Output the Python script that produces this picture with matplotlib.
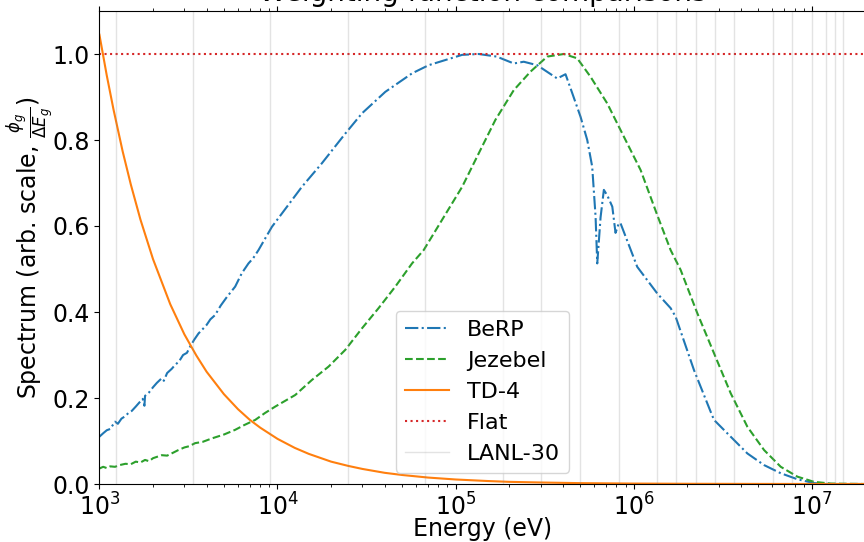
import numpy as np
import matplotlib
matplotlib.use('Agg')
import matplotlib.pyplot as plt

plt.rcParams['font.size'] = 16

# BeRP ball spectrum
berp_e = [1.0e3, 1.05e3, 1.1e3, 1.15e3, 1.224e3, 1.27e3, 1.33e3, 1.4e3, 1.453e3, 1.52e3,
          1.6e3, 1.68e3, 1.75e3, 1.79e3, 1.804e3, 1.9e3, 2.0e3, 2.1e3, 2.239e3, 2.3e3,
          2.4e3, 2.55e3, 2.66e3, 2.8e3, 2.95e3, 3.1e3, 3.228e3, 3.4e3, 3.6e3, 3.758e3,
          4.0e3, 4.2e3, 4.465e3, 4.8e3, 5.2e3, 5.785e3, 6.3e3, 6.871e3, 7.3e3, 7.823e3,
          8.5e3, 9.301e3, 1.37e4, 1.776e4, 2.403e4, 2.981e4, 4.031e4, 5.695e4, 7.062e4,
          1.088e5, 1.349e5, 1.7e5, 2.122e5, 2.414e5, 2.871e5, 3.721e5, 4.142e5, 4.518e5,
          5.03e5, 5.485e5, 5.848e5, 6.109e5, 6.243e5, 6.516e5, 6.8e5, 7.128e5, 7.583e5,
          7.907e5, 8.26e5, 8.44e5, 1.047e6, 1.357e6, 1.612e6, 1.72e6, 2.18e6, 2.705e6,
          2.825e6, 3.505e6, 4.35e6, 5.395e6, 6.695e6, 8.31e6, 1.03e7, 1.3e7, 2.0e7]
berp_v = [0.110, 0.118, 0.125, 0.128, 0.145, 0.140, 0.152, 0.158, 0.165, 0.170,
          0.180, 0.190, 0.198, 0.182, 0.205, 0.213, 0.225, 0.235, 0.246, 0.240,
          0.258, 0.268, 0.277, 0.285, 0.300, 0.305, 0.319, 0.335, 0.350, 0.358,
          0.370, 0.383, 0.393, 0.415, 0.435, 0.459, 0.490, 0.513, 0.525, 0.544,
          0.570, 0.598, 0.691, 0.746, 0.815, 0.862, 0.912, 0.955, 0.974,
          0.998, 1.000, 0.994, 0.978, 0.982, 0.974, 0.943, 0.953, 0.909,
          0.854, 0.800, 0.738, 0.622, 0.513, 0.620, 0.684, 0.670, 0.645,
          0.584, 0.607, 0.606, 0.505, 0.443, 0.409, 0.389, 0.265, 0.168,
          0.149, 0.110, 0.071, 0.044, 0.025, 0.011, 0.002, 0.0, 0.0]

# Jezebel spectrum
jez_e = [1.0e3, 1.05e3, 1.1e3, 1.15e3, 1.224e3, 1.3e3, 1.4e3, 1.5e3, 1.6e3, 1.7e3,
         1.804e3, 1.9e3, 2.0e3, 2.239e3, 2.4e3, 2.6e3, 2.777e3, 3.0e3, 3.2e3, 3.446e3,
         3.8e3, 4.279e3, 5.0e3, 5.785e3, 6.5e3, 7.494e3, 8.5e3, 9.707e3, 1.258e4,
         1.561e4, 1.935e4, 2.403e4, 2.981e4, 3.695e4, 4.586e4, 5.695e4, 6.62e4, 1.088e5,
         1.379e5, 1.674e5, 2.122e5, 2.634e5, 3.269e5, 4.053e5, 4.819e5, 5.724e5, 7.105e5,
         8.44e5, 1.094e6, 1.357e6, 1.612e6, 1.834e6, 2.277e6, 2.825e6, 3.505e6, 4.35e6,
         5.395e6, 6.695e6, 8.31e6, 1.03e7, 1.277e7, 2.0e7]
jez_v = [0.036, 0.040, 0.037, 0.041, 0.040, 0.044, 0.047, 0.046, 0.052, 0.050,
         0.056, 0.053, 0.060, 0.067, 0.066, 0.073, 0.079, 0.085, 0.088, 0.095,
         0.098, 0.106, 0.115, 0.126, 0.137, 0.149, 0.165, 0.180, 0.207,
         0.242, 0.273, 0.312, 0.362, 0.409, 0.459, 0.513, 0.544, 0.691,
         0.777, 0.847, 0.916, 0.959, 0.994, 1.000, 0.990, 0.947, 0.885,
         0.823, 0.730, 0.625, 0.544, 0.498, 0.397, 0.304, 0.211, 0.133,
         0.079, 0.040, 0.017, 0.005, 0.001, 0.0]

# TD-4 spectrum
td4_e = [1.0e3, 1.1e3, 1.2e3, 1.35e3, 1.5e3, 1.7e3, 2.0e3, 2.5e3, 3.0e3, 3.5e3, 4.0e3,
         5.0e3, 6.0e3, 7.0e3, 8.0e3, 1.0e4, 1.25e4, 1.5e4, 2.0e4, 2.5e4, 3.0e4, 4.0e4,
         5.0e4, 7.0e4, 1.0e5, 1.5e5, 2.0e5, 3.0e5, 5.0e5, 1.0e6, 2.0e6, 5.0e6, 1.0e7, 2.0e7]
td4_v = [1.045, 0.950, 0.871, 0.774, 0.697, 0.615, 0.523, 0.418, 0.348, 0.299, 0.261,
         0.209, 0.174, 0.149, 0.131, 0.105, 0.084, 0.070, 0.052, 0.042, 0.035, 0.026,
         0.021, 0.015, 0.0105, 0.007, 0.005, 0.0035, 0.002, 0.001, 0.0005, 0.0002, 0.0001, 0.00005]

# LANL 30-group boundaries (eV)
lanl30 = [1.39e-4, 1.52e-1, 4.14e-1, 1.13, 3.06, 8.32, 2.26e1, 6.14e1, 1.67e2, 4.54e2,
          1.235e3, 3.35e3, 9.12e3, 2.48e4, 6.76e4, 1.84e5, 3.03e5, 5.0e5, 8.23e5,
          1.353e6, 1.738e6, 2.232e6, 2.865e6, 3.68e6, 6.07e6, 7.79e6, 1.0e7, 1.2e7,
          1.35e7, 1.5e7]

fig = plt.figure(figsize=(8.64, 5.42), dpi=100)
ax = fig.add_axes([99.4 / 864, 58 / 542, 766 / 864, 473 / 542])

ax.plot(berp_e, berp_v, '-.', color='tab:blue', label='BeRP')
ax.plot(jez_e, jez_v, '--', color='tab:green', label='Jezebel')
ax.plot(td4_e, td4_v, '-', color='tab:orange', label='TD-4')
ax.axhline(1.0, ls=':', color='tab:red', label='Flat')
for i, b in enumerate(lanl30):
    ax.axvline(b, color='0.5', alpha=0.22, lw=1, label='LANL-30' if i == 0 else None)

ax.set_xscale('log')
ax.set_xlim(1e3, 2e7)
ax.set_ylim(0, 1.1)
ax.tick_params(which='both', top=True, labelsize=17)
ax.set_xlabel('Energy (eV)', fontsize=17)
ax.xaxis.set_label_coords(0.5, -0.069)
ax.set_ylabel(r'Spectrum (arb. scale, $\frac{\phi_g}{\Delta E_g}$)', fontsize=17)
ax.yaxis.set_label_coords(-0.057, 0.5)
ax.set_title('Weighting function comparisons', fontsize=20, pad=7)
ax.legend(loc='lower center')

fig.savefig('out.png', dpi=100)
